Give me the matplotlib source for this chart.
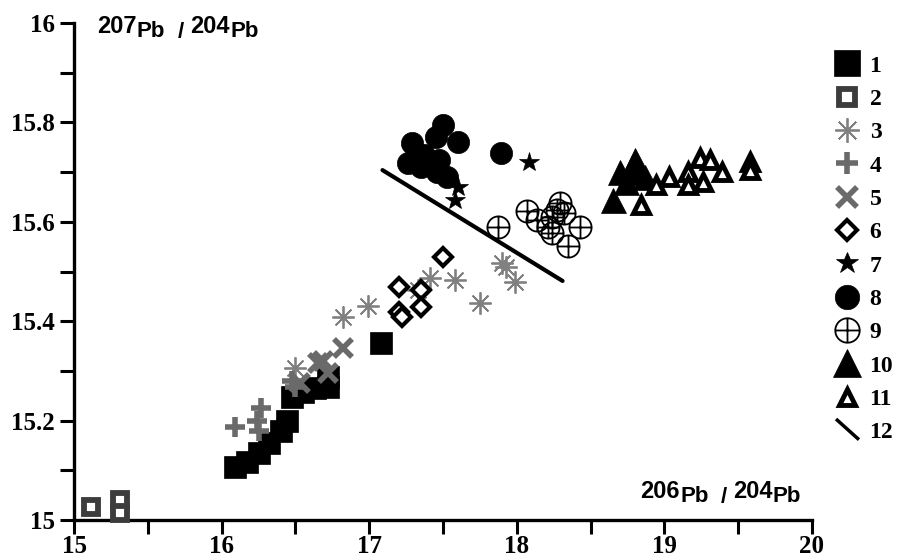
import numpy as np
import matplotlib
matplotlib.use('Agg')
import matplotlib.pyplot as plt
from matplotlib.path import Path
from matplotlib.lines import Line2D
from matplotlib.ticker import MultipleLocator, FuncFormatter

# groupe 1 : carres pleins
g1_x = [16.09, 16.17, 16.25, 16.32, 16.40, 16.44, 16.48, 16.55, 16.63, 16.72, 16.72, 17.08]
g1_y = [15.107, 15.117, 15.135, 15.155, 15.180, 15.200, 15.247, 15.258, 15.266, 15.268, 15.288, 15.356]
# groupe 2 : carres vides
g2_x = [15.115, 15.31, 15.31]
g2_y = [15.026, 15.040, 15.014]
# groupe 3 : asterisques
g3_x = [16.50, 16.82, 16.99, 17.41, 17.33, 17.58, 17.75, 17.90, 17.93, 17.99]
g3_y = [15.306, 15.408, 15.430, 15.487, 15.463, 15.483, 15.437, 15.517, 15.510, 15.479]
# groupe 4 : croix droites
g4_x = [16.09, 16.27, 16.24, 16.25, 16.50, 16.48]
g4_y = [15.187, 15.225, 15.200, 15.180, 15.268, 15.280]
# groupe 5 : croix obliques
g5_x = [16.69, 16.82, 16.72, 16.65, 16.53]
g5_y = [15.320, 15.346, 15.296, 15.316, 15.275]
# groupe 6 : losanges
g6_x = [17.50, 17.20, 17.35, 17.35, 17.20, 17.22]
g6_y = [15.529, 15.469, 15.463, 15.428, 15.419, 15.408]
# groupe 7 : etoiles
g7_x = [18.08, 17.60, 17.58]
g7_y = [15.720, 15.670, 15.644]
# groupe 8 : cercles pleins
g8_x = [17.29, 17.50, 17.45, 17.60, 17.26, 17.37, 17.47, 17.46, 17.53, 17.89, 17.35]
g8_y = [15.758, 15.795, 15.771, 15.760, 15.718, 15.734, 15.724, 15.700, 15.690, 15.738, 15.710]
# groupe 9 : cercles croises
g9_x = [17.87, 18.07, 18.29, 18.43, 18.35, 18.14, 18.21, 18.24, 18.24, 18.32, 18.27]
g9_y = [15.590, 15.622, 15.638, 15.590, 15.551, 15.604, 15.590, 15.610, 15.577, 15.618, 15.624]
# groupe 10 : triangles pleins
g10_x = [18.79, 18.65, 18.78, 18.80, 18.70, 18.87, 18.74]
g10_y = [15.700, 15.644, 15.710, 15.725, 15.700, 15.690, 15.680]
# groupe 11 : triangles vides
g11_x = [18.84, 19.03, 19.16, 19.24, 19.31, 19.39, 19.26, 19.16, 19.58, 19.58, 18.94]
g11_y = [15.634, 15.690, 15.700, 15.728, 15.724, 15.700, 15.680, 15.674, 15.720, 15.704, 15.674]
# 12 : droite
l12_x = [17.09, 18.31]
l12_y = [15.704, 15.481]

labels = [str(i) for i in range(1, 13)]

W, H = 906, 557

def px(x, y):
    return x / W, 1 - y / H

# marqueurs speciaux
circ = Path.unit_circle()
oplus = Path(np.concatenate([circ.vertices, [[-1, 0], [1, 0], [0, -1], [0, 1]]]),
             np.concatenate([circ.codes, [Path.MOVETO, Path.LINETO, Path.MOVETO, Path.LINETO]]))
diag = Path([[-1, 1], [1, -0.8]], [Path.MOVETO, Path.LINETO])

grey = '#7a7a7a'
styles = [
    dict(marker='s', ms=16.5, mfc='black', mec='black', mew=0.5),
    dict(marker='s', ms=10.5, mfc='white', mec='#3c3c3c', mew=4.2),
    dict(marker=(8, 2, 0), ms=16, mfc=grey, mec='#808080', mew=1.3),
    dict(marker='+', ms=15, mec='#6a6a6a', mew=4.0),
    dict(marker='x', ms=13, mec='#6a6a6a', mew=4.0),
    dict(marker='D', ms=9.5, mfc='white', mec='black', mew=3.0),
    dict(marker='*', ms=15, mfc='black', mec='black', mew=0.5),
    dict(marker='o', ms=16, mfc='black', mec='black', mew=0.5),
    dict(marker=oplus, ms=16, mfc='none', mec='black', mew=1.3),
    dict(marker='^', ms=18, mfc='black', mec='black', mew=0.5),
    dict(marker='^', ms=11, mfc='white', mec='black', mew=3.5),
]
groups = [(g1_x, g1_y), (g2_x, g2_y), (g3_x, g3_y), (g4_x, g4_y), (g5_x, g5_y),
          (g6_x, g6_y), (g7_x, g7_y), (g8_x, g8_y), (g9_x, g9_y), (g10_x, g10_y),
          (g11_x, g11_y)]

fig = plt.figure(figsize=(W / 100, H / 100), dpi=100)
ax = fig.add_axes([74 / W, 37 / H, 738 / W, 497 / H])

order = [0, 1, 3, 4, 2, 5, 8, 7, 6, 10, 9]
for i in order:
    gx, gy = groups[i]
    ax.plot(gx, gy, linestyle='none', clip_on=False, zorder=3 + i * 0.1, **styles[i])

ax.plot(l12_x, l12_y, color='black', lw=3, solid_capstyle='round', zorder=5)

ax.set_xlim(15, 20)
ax.set_ylim(15, 16)
ax.xaxis.set_major_locator(MultipleLocator(1))
ax.xaxis.set_minor_locator(MultipleLocator(0.5))
ax.yaxis.set_major_locator(MultipleLocator(0.2))
ax.yaxis.set_minor_locator(MultipleLocator(0.1))
ax.yaxis.set_major_formatter(FuncFormatter(lambda v, p: f'{v:g}'))
for s in ['top', 'right']:
    ax.spines[s].set_visible(False)
for s in ['left', 'bottom']:
    ax.spines[s].set_linewidth(2.4)
ax.tick_params(which='both', direction='out', length=10, width=2.2, color='black')
ax.tick_params(axis='x', pad=1)
ax.tick_params(axis='y', pad=4)
for lab in ax.get_xticklabels() + ax.get_yticklabels():
    lab.set_fontfamily('Liberation Serif')
    lab.set_fontweight('bold')
    lab.set_fontsize(18)

# titres des axes
def iso_label(x0, base, num):
    sans = dict(fontfamily='Liberation Sans', fontweight='bold', va='baseline', ha='left')
    fig.text(*px(x0, base - 4), num, fontsize=17, **sans)
    fig.text(*px(x0 + 40, base), 'Pb', fontsize=16, **sans)
    fig.text(*px(x0 + 81, base + 1), '/', fontsize=16, **sans)
    fig.text(*px(x0 + 93, base - 4), '204', fontsize=17, **sans)
    fig.text(*px(x0 + 133, base), 'Pb', fontsize=16, **sans)

iso_label(97, 37, '207')
iso_label(640, 502, '206')

# legende
handles = [Line2D([], [], linestyle='none', **st) for st in styles]
handles.append(Line2D([], [], linestyle='none', marker=diag, ms=15, mec='black', mew=2.5))
leg = fig.legend(handles, labels, loc='upper left', bbox_to_anchor=px(833, 55),
                 frameon=False, handlelength=1.2, handletextpad=0.35, labelspacing=0.5,
                 borderaxespad=0, borderpad=0, markerscale=1.1,
                 prop=dict(family='Liberation Serif', weight='bold', size=17))

fig.savefig('out.png', dpi=100)
